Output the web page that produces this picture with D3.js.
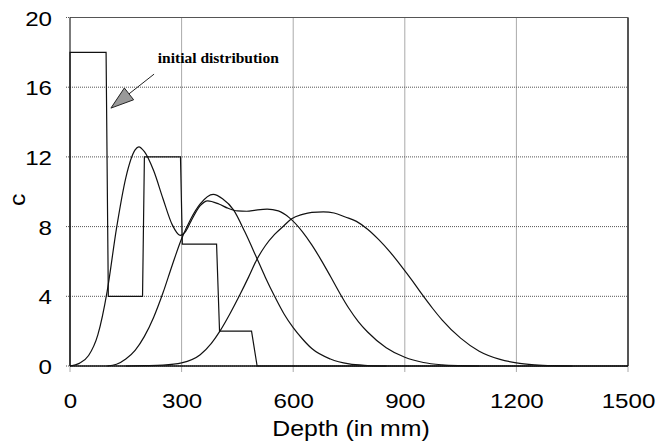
<!DOCTYPE html>
<html>
<head>
<meta charset="utf-8">
<script src="https://cdn.jsdelivr.net/npm/d3@7"></script>
<style>
  body { margin: 0; background: #fff; }
  .grid line { stroke: #555; stroke-width: 1; stroke-dasharray: 1,1; }
  .tick text { font-family: "Liberation Sans", Arial, sans-serif; font-size: 21px; fill: #000; }
  .curve { fill: none; stroke: #111; stroke-width: 1.2; }
</style>
</head>
<body>
<div id="chart"></div>
<script>
//
// Data: depth in mm, concentration c
//
var stepDepth = [0, 0, 97, 103, 195, 200, 297, 302, 394, 402, 488, 503, 1500];
var stepConc  = [0, 18, 18, 4, 4, 12, 12, 7, 7, 2, 2, 0, 0];

var depth1 = [0, 25, 50, 75, 100, 125, 150, 175, 185, 200, 225, 250, 275, 296, 310, 325, 350, 370, 400, 425, 450, 475, 500, 530, 560, 590, 625, 650, 676, 700, 726, 750, 775, 800, 850, 900, 950, 1000, 1050, 1100];
var conc1  = [0, 0.15, 0.6, 1.8, 4.3, 7.9, 10.8, 12.4, 12.58, 12.3, 11.2, 9.6, 8.1, 7.5, 7.7, 8.3, 9.2, 9.48, 9.3, 9.05, 8.9, 8.88, 8.95, 9.0, 8.9, 8.5, 7.7, 6.95, 6.05, 5.15, 4.15, 3.3, 2.55, 1.95, 1.05, 0.5, 0.2, 0.07, 0.02, 0];

var depth2 = [100, 125, 150, 175, 200, 225, 250, 275, 300, 325, 350, 385, 410, 440, 470, 502, 525, 550, 575, 600, 625, 650, 700, 750, 800, 850];
var conc2  = [0, 0.1, 0.4, 0.9, 1.7, 2.8, 4.2, 5.8, 7.3, 8.45, 9.3, 9.85, 9.6, 8.95, 7.7, 6.2, 5.1, 4.0, 3.0, 2.2, 1.55, 1.0, 0.4, 0.12, 0.03, 0];

var depth3 = [150, 200, 250, 300, 350, 380, 403, 430, 457, 480, 502, 525, 550, 575, 596, 625, 650, 681, 710, 740, 770, 800, 830, 860, 890, 920, 945, 975, 1000, 1050, 1100, 1156, 1200, 1250, 1300, 1350];
var conc3  = [0, 0.02, 0.05, 0.18, 0.65, 1.3, 2.0, 3.0, 4.1, 5.1, 6.1, 6.9, 7.55, 8.05, 8.45, 8.7, 8.82, 8.85, 8.78, 8.55, 8.3, 7.85, 7.25, 6.55, 5.75, 4.9, 4.15, 3.3, 2.65, 1.6, 0.85, 0.38, 0.18, 0.07, 0.02, 0];

var xTicks = [0, 300, 600, 900, 1200, 1500];
var yTicks = [0, 4, 8, 12, 16, 20];

// annotation: label and arrow, in data units
var noteText = "initial distribution";
var notePos = [236, 17.4];
var arrowTail = [226, 16.75];
var arrowTip = [110, 14.8];

//
// Layout
//
var margin = {top: 17.5, right: 35, bottom: 78, left: 70};
var width = 663 - margin.left - margin.right;
var height = 444 - margin.top - margin.bottom;

var x = d3.scaleLinear().domain([0, 1500]).range([0, width]);
var y = d3.scaleLinear().domain([0, 20]).range([height, 0]);

var svg = d3.select("#chart").append("svg")
	.attr("width", 663)
	.attr("height", 444)
	.append("g")
	.attr("transform", "translate(" + margin.left + "," + margin.top + ")");

// gridlines (dotted, with short tick stubs outside the frame)
var grid = svg.append("g").attr("class", "grid");
grid.selectAll(".vg").data(xTicks).enter().append("line")
	.attr("x1", function(d) { return x(d); })
	.attr("x2", function(d) { return x(d); })
	.attr("y1", 0)
	.attr("y2", height + 6);
grid.selectAll(".hg").data(yTicks).enter().append("line")
	.attr("x1", -4)
	.attr("x2", width)
	.attr("y1", function(d) { return y(d); })
	.attr("y2", function(d) { return y(d); });

// frame
svg.append("line").attr("x1", 0).attr("x2", width).attr("y1", 0).attr("y2", 0)
	.attr("stroke", "#555").attr("stroke-width", 1);
svg.append("line").attr("x1", width).attr("x2", width).attr("y1", 0).attr("y2", height)
	.attr("stroke", "#555").attr("stroke-width", 2);
svg.append("line").attr("x1", 0).attr("x2", 0).attr("y1", 0).attr("y2", height)
	.attr("stroke", "#222").attr("stroke-width", 1);
svg.append("line").attr("x1", 0).attr("x2", width).attr("y1", height).attr("y2", height)
	.attr("stroke", "#111").attr("stroke-width", 1.3);

// axes (labels only, lines drawn above)
var xAxis = svg.append("g")
	.attr("transform", "translate(0," + height + ")")
	.call(d3.axisBottom(x).tickValues(xTicks).tickSize(0).tickFormat(d3.format("d")));
xAxis.select(".domain").remove();
xAxis.selectAll("text")
	.attr("y", 0).attr("dy", 0)
	.attr("transform", "translate(0,42) scale(1.15,1)");

var yAxis = svg.append("g")
	.call(d3.axisLeft(y).tickValues(yTicks).tickSize(0).tickFormat(d3.format("d")));
yAxis.select(".domain").remove();
yAxis.selectAll("text")
	.attr("x", 0).attr("dy", "0.36em")
	.attr("transform", "translate(-18,0) scale(1.15,1)");

// axis titles
svg.append("text")
	.attr("transform", "translate(" + (width / 2 + 2) + "," + (height + 70) + ") scale(1.13,1)")
	.attr("text-anchor", "middle")
	.style("font-family", "Liberation Sans, Arial, sans-serif")
	.style("font-size", "22px")
	.text("Depth (in mm)");

svg.append("text")
	.attr("transform", "translate(-45," + (height / 2 + 8) + ") rotate(-90) scale(1.13,1)")
	.attr("text-anchor", "middle")
	.style("font-family", "Liberation Sans, Arial, sans-serif")
	.style("font-size", "22px")
	.text("c");

// series
function series(xs, ys) {
	return xs.map(function(d, i) { return [d, ys[i]]; });
}

var smooth = d3.line()
	.x(function(d) { return x(d[0]); })
	.y(function(d) { return y(d[1]); })
	.curve(d3.curveMonotoneX);

var straight = d3.line()
	.x(function(d) { return x(d[0]); })
	.y(function(d) { return y(d[1]); });

svg.append("path").attr("class", "curve")
	.attr("stroke-width", 1.5)
	.attr("d", straight(series(stepDepth, stepConc)));

[[depth1, conc1], [depth2, conc2], [depth3, conc3]].forEach(function(s) {
	svg.append("path").attr("class", "curve")
		.attr("d", smooth(series(s[0], s[1])));
});

// annotation
svg.append("text")
	.attr("x", x(notePos[0]))
	.attr("y", y(notePos[1]))
	.style("font-family", "Liberation Serif, Times New Roman, serif")
	.style("font-weight", "bold")
	.style("font-size", "15.5px")
	.text(noteText);

var tx = x(arrowTail[0]), ty = y(arrowTail[1]);
var hx = x(arrowTip[0]), hy = y(arrowTip[1]);
var ang = Math.atan2(hy - ty, hx - tx);
var headLen = 23, headHalf = 7.5;
var bx = hx - headLen * Math.cos(ang), by = hy - headLen * Math.sin(ang);
var px = -Math.sin(ang) * headHalf, py = Math.cos(ang) * headHalf;

svg.append("line")
	.attr("x1", tx).attr("y1", ty).attr("x2", bx).attr("y2", by)
	.attr("stroke", "#222").attr("stroke-width", 1);
svg.append("path")
	.attr("d", "M" + hx + "," + hy + "L" + (bx + px) + "," + (by + py) + "L" + (bx - px) + "," + (by - py) + "Z")
	.attr("fill", "#999")
	.attr("stroke", "#222")
	.attr("stroke-width", 1);
</script>
</body>
</html>
